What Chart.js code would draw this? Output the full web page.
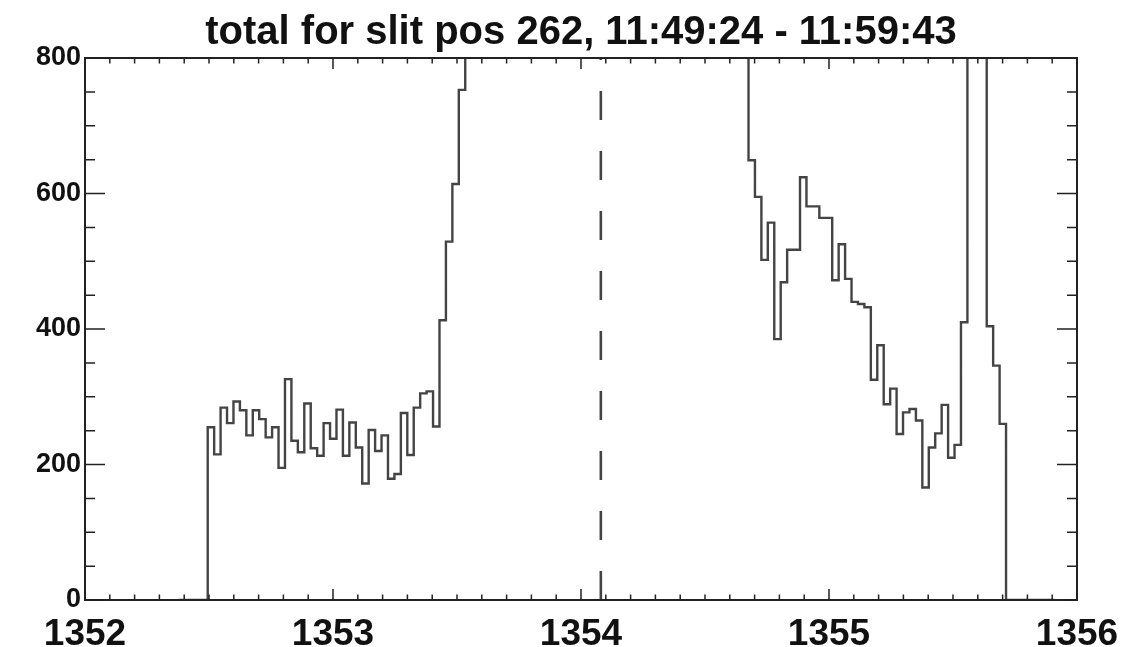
<!DOCTYPE html>
<html>
<head>
<meta charset="utf-8">
<title>total for slit pos 262</title>
<script src="https://cdn.jsdelivr.net/npm/chart.js@4/dist/chart.umd.min.js"></script>
<style>
    body { margin: 0; background: #ffffff; }
    #spectrum-canvas { display: block; }
</style>
</head>
<body>
<canvas id="spectrum-canvas" width="1121" height="647"></canvas>
<script>
// spectral grid (Angstrom): first bin centre and bin width
const wavelengthStart = 1352.378;
const binWidth = 0.02596;

// counts per bin, left to right (values above 800 run off the top of the plot)
const counts = [
    0, 0, 0, 0, 0,
    255, 215, 284, 261, 293, 280, 243, 280, 267, 240,
    255, 195, 326, 235, 218, 290, 224, 213, 261, 238,
    281, 213, 262, 225, 172, 251, 220, 243, 179, 186,
    276, 214, 284, 305, 308, 256, 413, 529, 614, 753,
    900, 1150, 1450, 1800, 2100, 2300, 2350, 2250, 2050, 1800,
    1550, 1350, 1200, 1100, 1050, 1000, 980, 1000, 1050, 1150,
    1300, 1500, 1700, 1900, 2000, 1950, 1800, 1650, 1500, 1400,
    1350, 1400, 1550, 1700, 1800, 1750, 1600, 1400, 1250, 1100,
    1000, 930, 880, 840,
    649, 595, 502, 557, 385, 469, 517, 517, 624, 581,
    581, 564, 564, 472, 525, 474, 440, 437, 432, 325,
    376, 289, 312, 245, 277, 282, 265, 166, 225, 246,
    288, 210, 229, 410, 1400, 2200, 1300, 404, 346, 260,
    0, 0, 0, 0, 0, 0, 0, 0
];

// dashed reference wavelength
const markerWavelength = [1354.08];

// axes
const xTicks = [1352, 1353, 1354, 1355, 1356];
const yTicks = [0, 200, 400, 600, 800];
const titleText = "total for slit pos 262, 11:49:24 - 11:59:43";

const spectrumPoints = counts.map(function (c, i) {
    return { x: wavelengthStart + i * binWidth, y: c };
});
const markerPoints = [
    { x: markerWavelength[0], y: yTicks[0] },
    { x: markerWavelength[0], y: yTicks[yTicks.length - 1] }
];

// IDL-style box: frame on all four sides, inward major + minor ticks
const idlFramePlugin = {
    id: 'idlFrame',
    afterDatasetsDraw: (chart) => {
        const ctx = chart.ctx;
        const a = chart.chartArea;
        const xs = chart.scales.x;
        const ys = chart.scales.y;
        ctx.save();
        ctx.strokeStyle = '#222';
        ctx.lineWidth = 2;
        ctx.strokeRect(a.left, a.top, a.right - a.left, a.bottom - a.top);

        ctx.lineWidth = 1.5;
        ctx.beginPath();
        // x: minor every 0.1
        for (let i = 0; i <= 40; i++) {
            const px = xs.getPixelForValue(xTicks[0] + i * 0.1);
            const len = (i % 10 === 0) ? 11 : 5.5;
            ctx.moveTo(px, a.bottom); ctx.lineTo(px, a.bottom - len);
            ctx.moveTo(px, a.top); ctx.lineTo(px, a.top + len);
        }
        // y: minor every 50
        for (let v = yTicks[0]; v <= yTicks[yTicks.length - 1]; v += 50) {
            const py = ys.getPixelForValue(v);
            const len = (v % 200 === 0) ? 20 : 10;
            ctx.moveTo(a.left, py); ctx.lineTo(a.left + len, py);
            ctx.moveTo(a.right, py); ctx.lineTo(a.right - len, py);
        }
        ctx.stroke();
        ctx.restore();
    }
};

const ctx = document.getElementById("spectrum-canvas").getContext("2d");

const spectrum_chart = new Chart(ctx, {
    type: 'line',
    data: {
        datasets: [
            {
                data: spectrumPoints,
                stepped: 'middle',
                borderColor: '#444',
                borderWidth: 2.4,
                pointRadius: 0,
                fill: false
            }, {
                data: markerPoints,
                borderColor: '#444',
                borderWidth: 2.6,
                borderDash: [29, 31],
                pointRadius: 0,
                fill: false
            }
        ]
    },
    options: {
        responsive: false,
        animation: false,
        devicePixelRatio: 1,
        layout: { padding: { top: 0, left: 0, right: 44, bottom: 0 } },
        scales: {
            x: {
                type: 'linear',
                min: xTicks[0],
                max: xTicks[xTicks.length - 1],
                afterBuildTicks: (s) => { s.ticks = xTicks.map(v => ({ value: v })); },
                afterFit: (s) => {
                    s.height = 47;
                    s.paddingLeft = 0;
                    s.paddingRight = 0;
                },
                grid: { display: false, drawTicks: false },
                border: { display: false },
                ticks: {
                    padding: 13,
                    maxRotation: 0,
                    color: '#111',
                    font: { family: 'Liberation Sans, Arial, sans-serif', size: 37, weight: 'bold' },
                    callback: (v) => String(v)
                }
            },
            y: {
                min: yTicks[0],
                max: yTicks[yTicks.length - 1],
                afterBuildTicks: (s) => { s.ticks = yTicks.map(v => ({ value: v })); },
                afterFit: (s) => { s.width = 85; },
                grid: { display: false, drawTicks: false },
                border: { display: false },
                ticks: {
                    padding: 4,
                    color: '#111',
                    font: { family: 'Liberation Sans, Arial, sans-serif', size: 27, weight: 'bold' },
                    callback: (v) => String(v)
                }
            }
        },
        plugins: {
            legend: { display: false },
            tooltip: { enabled: false },
            title: {
                display: true,
                text: titleText,
                fullSize: false,
                color: '#111',
                font: { family: 'Liberation Sans, Arial, sans-serif', size: 40, weight: 'bold' },
                padding: { top: 9, bottom: 1 }
            }
        }
    },
    plugins: [idlFramePlugin]
});
</script>
</body>
</html>
